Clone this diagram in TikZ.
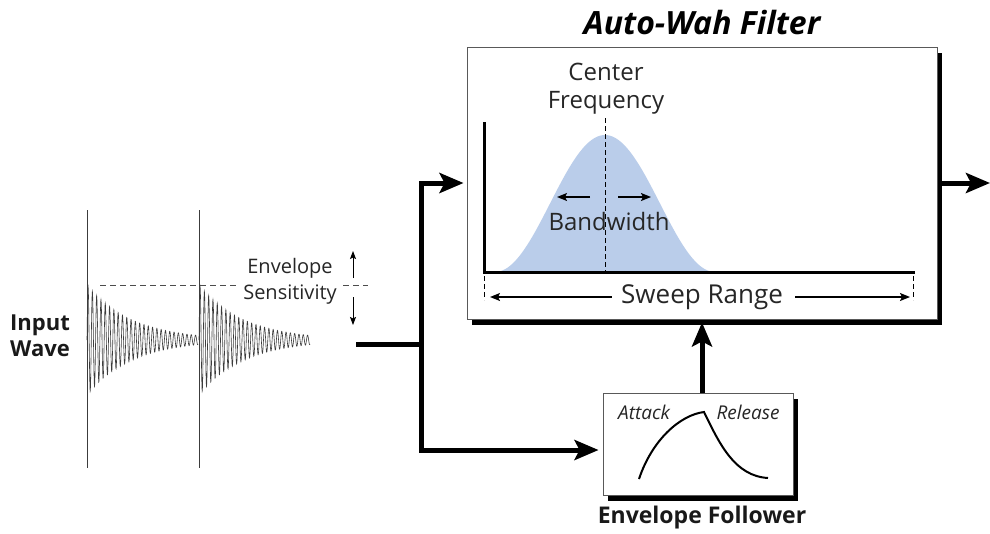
\documentclass[tikz,border=0pt]{standalone}
\usepackage{fontspec}
\setmainfont{Open Sans}
\usetikzlibrary{arrows.meta,calc,shadows}
\definecolor{bandblue}{RGB}{186,205,234}
\definecolor{wavegray}{RGB}{60,60,60}
\begin{document}
\begin{tikzpicture}[x=1pt,y=-1pt,
  boxstyle/.style={draw=black!65, line width=0.9pt, fill=white, inner sep=0pt,
    drop shadow={shadow xshift=5pt, shadow yshift=-6pt, opacity=1, fill=black}},
  flow/.style={line width=5pt, -{Stealth[length=24pt,width=20pt,inset=5pt]}},
  flowplain/.style={line width=5pt},
  thinarrow/.style={line width=1.4pt, -{Stealth[length=10pt,width=8pt,inset=2pt]}},
  tinyarrow/.style={line width=0.9pt, -{Stealth[length=8pt,width=6pt,inset=1.5pt]}},
  label/.style={inner sep=0pt, font=\fontsize{24}{28}\selectfont, text=black!85},
  boldlabel/.style={inner sep=0pt, font=\fontsize{23}{26}\selectfont\bfseries, text=black!90},
  wave/.style={wavegray, line width=0.6pt}
]
\useasboundingbox (0,0) rectangle (990,533);

% boxes
\node[boxstyle, minimum width=470pt, minimum height=272pt] (filter) at (702,183) {};
\node[boxstyle, minimum width=190pt, minimum height=102pt] (follower) at (698,444) {};

% titles
\node[inner sep=0pt, font=\fontsize{32}{34}\selectfont\bfseries\itshape] (title) at (702,22) {Auto-Wah Filter};
\node[boldlabel] (fllabel) at (702,518) {Envelope Follower};
\node[boldlabel, align=center, font=\fontsize{22}{26}\selectfont\bfseries] (input) at (40,336) {Input\\Wave};

% filter graph
\fill[bandblue] plot[domain=-110:110, samples=120] ({605+\x}, {272-68.5*(1+cos(\x/110*180))}) -- cycle;
\draw[line width=3pt] (484,122) -- (484,272) -- (915,272);
\draw[dashed, line width=1pt, dash pattern=on 5pt off 3pt] (605,118) -- (605,271);
\node[label, align=center] (cf) at (606,89) {Center\\Frequency};
\node[label] (bw) at (609,221) {Bandwidth};
\draw[thinarrow] (590,197) -- (557,197);
\draw[thinarrow] (618,197) -- (651,197);
\draw[dashed, line width=0.8pt, dash pattern=on 5pt off 3pt] (484,276) -- (484,300);
\draw[dashed, line width=0.8pt, dash pattern=on 5pt off 3pt] (913,276) -- (913,300);
\node[label, font=\fontsize{26}{28}\selectfont] (sweep) at (702,297) {Sweep Range};
\draw[thinarrow] ([xshift=-9pt]sweep.west) -- (490,297);
\draw[thinarrow] ([xshift=12pt]sweep.east) -- (910,297);

% envelope follower graph
\node[inner sep=0pt, font=\fontsize{19}{22}\selectfont\itshape, text=black!85] (attack) at (644,412) {Attack};
\node[inner sep=0pt, font=\fontsize{19}{22}\selectfont\itshape, text=black!85] (release) at (748,412) {Release};
\draw[line width=2pt] (639,479) .. controls (652,440) and (680,415) .. (704,412)
  .. controls (720,445) and (735,476) .. (768,478);

% input wave
\draw[wavegray, line width=0.7pt] (87,210) -- (87,468);
\draw[wavegray, line width=0.7pt] (199,210) -- (199,468);
\draw[wave] plot[domain=0:111, samples=700] ({87+\x}, {340-55*exp(-\x/45)*sin(\x/4.3*360)});
\draw[wave] plot[domain=0:111, samples=700] ({199+\x}, {340-55*exp(-\x/45)*sin(\x/4.3*360)});

% envelope sensitivity
\node[inner sep=0pt, align=center, font=\fontsize{20}{26}\selectfont, text=black!85] (sens) at (290,281) {Envelope\\Sensitivity};
\draw[black!70, line width=0.8pt, dash pattern=on 6pt off 4pt] (100,285) -- ([xshift=-4pt]sens.west |- 0,285);
\draw[black!70, line width=0.8pt, dash pattern=on 6pt off 4pt] (343,285) -- (368,285);
\coordinate (su) at (353,278);
\coordinate (sd) at (353,297);
\draw[tinyarrow] (su) -- (353,251);
\draw[tinyarrow] (sd) -- (353,325);

% connectors
\coordinate (instart) at (356,344);
\coordinate (junc) at (421,344);
\draw[flowplain] (instart) -- (junc);
\draw[flow, shorten >=3pt] (junc) |- (filter.west);
\draw[flow, shorten >=4pt] (junc) |- ([yshift=-6pt]follower.west);
\draw[flow, shorten >=-3pt] (follower.north -| filter.south) -- ([yshift=-6pt]filter.south);
\coordinate (outend) at (990,183);
\draw[flow] ([xshift=5pt]filter.east) -- (outend);
\end{tikzpicture}
\end{document}
